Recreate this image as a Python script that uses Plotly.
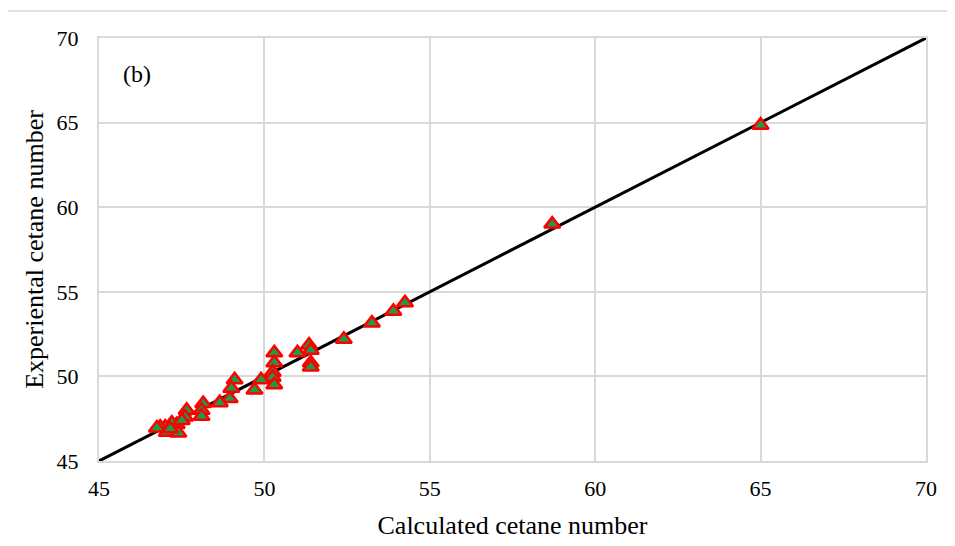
import plotly.graph_objects as go

calculated = [65.0, 58.7, 54.25, 53.9, 53.25, 52.4, 51.35, 51.4, 51.4, 51.4,
              51.0, 50.3, 50.3, 50.25, 50.25, 50.3, 49.9, 49.7, 49.1, 49.0,
              48.95, 48.65, 48.15, 48.1, 48.1, 47.65, 47.6, 47.35, 47.2, 47.0,
              46.85, 46.75, 47.05, 47.4, 47.5, 47.15]
experimental = [64.85, 59.0, 54.35, 53.85, 53.15, 52.2, 51.85, 51.55, 50.8, 50.55,
                51.4, 51.4, 50.8, 50.25, 49.95, 49.5, 49.8, 49.2, 49.8, 49.3,
                48.7, 48.45, 48.4, 48.0, 47.65, 48.0, 47.6, 47.15, 47.25, 47.0,
                47.0, 46.95, 46.7, 46.65, 47.4, 46.9]
parity = [45, 70]
ticks = [45, 50, 55, 60, 65, 70]

FONT = "Liberation Serif"
GRID = "#d9d9d9"

fig = go.Figure()
fig.add_trace(go.Scatter(x=parity, y=parity, mode="lines",
                         line=dict(color="black", width=3), showlegend=False))
fig.add_trace(go.Scatter(x=calculated, y=experimental, mode="markers",
                         marker=dict(symbol="triangle-up", size=14, color="#1e9a4a",
                                     line=dict(color="#ff0000", width=2.5)),
                         showlegend=False))

axis_common = dict(range=[45, 70], tickvals=ticks, showgrid=True, gridcolor=GRID,
                   gridwidth=2, showline=True, linecolor=GRID, linewidth=2, mirror=True,
                   zeroline=False, ticks="outside", ticklen=0, tickcolor="white",
                   automargin=False,
                   tickfont=dict(family=FONT, size=22, color="black"))

fig.update_xaxes(**axis_common, ticklabelstandoff=7,
                 title=dict(text="Calculated cetane number",
                            font=dict(family=FONT, size=26, color="black"), standoff=15))
fig.update_yaxes(**axis_common, ticklabelstandoff=14,
                 title=dict(text="Experiental cetane number",
                            font=dict(family=FONT, size=26, color="black"), standoff=5))

fig.add_annotation(x=46.15, y=67.9, text="(b)", showarrow=False,
                   font=dict(family=FONT, size=24, color="black"))

# outer chart border
fig.add_shape(type="rect", xref="paper", yref="paper",
              x0=(7 - 99) / 827, x1=1.06, y0=-0.3, y1=(461 - 11) / 423,
              line=dict(color=GRID, width=1.5), fillcolor="rgba(0,0,0,0)", layer="below")

fig.update_layout(width=947, height=538, margin=dict(l=91, r=29, t=30, b=85),
                  font=dict(family=FONT, color="black"),
                  plot_bgcolor="white", paper_bgcolor="white")

fig.write_html("out.html")
